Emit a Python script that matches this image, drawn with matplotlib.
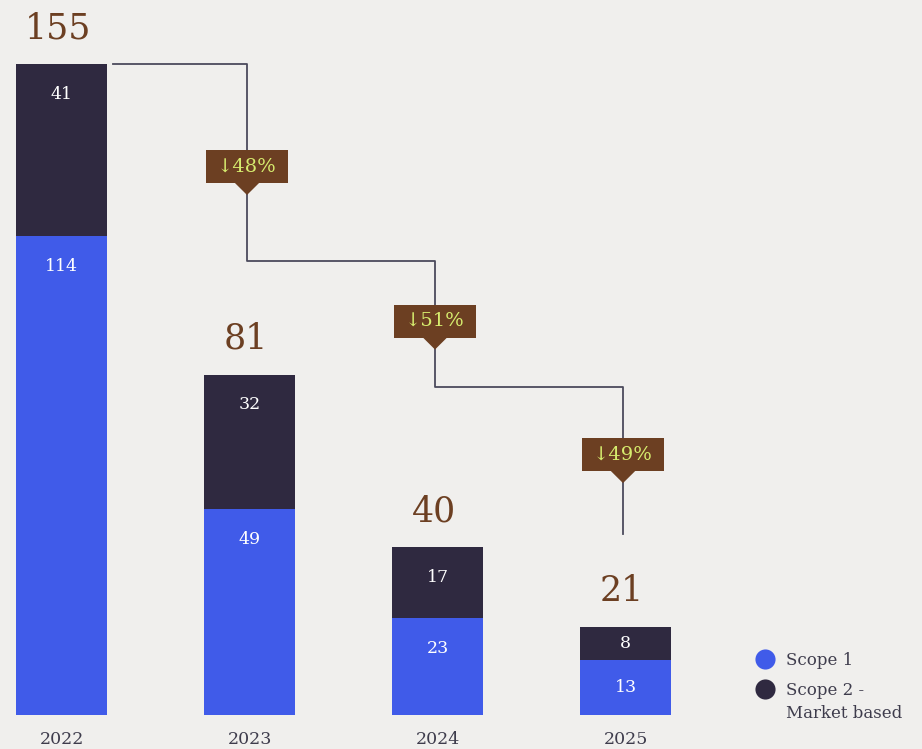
import numpy as np
import matplotlib
matplotlib.use('Agg')
from matplotlib import pyplot as plt
from matplotlib.patches import Rectangle, Polygon

years = ['2022', '2023', '2024', '2025']
scope1 = [114, 49, 23, 13]
scope2 = [41, 32, 17, 8]
totals = [155, 81, 40, 21]
drops = [48, 51, 49]
legend_labels = ['Scope 1', 'Scope 2 -\nMarket based']

blue = '#405be9'
dark = '#2f2940'
brown = '#6c3f22'
bg = '#f0efed'
badge_txt = '#d6ec6e'
grey_txt = '#3e3c4c'

plt.rcParams['font.family'] = ['DejaVu Serif', 'DejaVu Sans']

# layout: 188 px per bar slot, 4.2 px per unit
px_x = 1 / 188
px_y = 1 / 4.2

fig = plt.figure(figsize=(9.22, 7.49), dpi=100, facecolor=bg)
ax = fig.add_axes([0, 0, 1, 1])
ax.set_facecolor(bg)
ax.set_xlim(-61.5 * px_x, (922 - 61.5) * px_x)
ax.set_ylim(-34 * px_y, 715 * px_y)
ax.axis('off')

x = np.arange(len(years))
w = 91 * px_x
ax.bar(x, scope1, width=w, color=blue, linewidth=0)
ax.bar(x, scope2, width=w, bottom=scope1, color=dark, linewidth=0)

for i in range(len(years)):
    # segment labels: 30 px below segment top, centred if the segment is small
    for bot, val in [(0, scope1[i]), (scope1[i], scope2[i])]:
        if val * 4.2 < 60:
            y = bot + val / 2
        else:
            y = bot + val - 30 * px_y
        ax.text(x[i], y, str(val), color='white', fontsize=12.5, ha='center', va='center')
    ax.text(x[i] - 0.02, totals[i] + 19 * px_y, str(totals[i]), color=brown, fontsize=25,
            ha='center', va='bottom')
    ax.text(x[i], -24 * px_y, years[i], color=grey_txt, fontsize=12.5, ha='center', va='center')

# step connector
levels = [totals[0], 108, 78, 43]
badge_levels = [130.6, 93.8, 62.0]
dx = -2.5 * px_x
lx = [x[0] + w / 2 + 6 * px_x]
ly = [levels[0]]
for k in range(1, len(years)):
    lx += [x[k] + dx, x[k] + dx]
    ly += [levels[k - 1], levels[k]]
ax.plot(lx, ly, color='#4b4a5c', lw=1.3, zorder=2)

bw, bh = 82 * px_x, 33 * px_y
tw, th = 12.5 * px_x, 12 * px_y
for k in range(1, len(years)):
    cy = badge_levels[k - 1]
    cx = x[k] + dx
    ax.add_patch(Rectangle((cx - bw / 2, cy - bh / 2), bw, bh, color=brown, zorder=3, lw=0))
    ax.add_patch(Polygon([[cx - tw, cy - bh / 2 + 0.1], [cx + tw, cy - bh / 2 + 0.1],
                          [cx, cy - bh / 2 - th]], closed=True, color=brown, zorder=3, lw=0))
    ax.text(cx, cy, '\u2193' + f'{drops[k - 1]}%', color=badge_txt, fontsize=14,
            ha='center', va='center', zorder=4)

# legend
for j, (lab, col) in enumerate(zip(legend_labels, [blue, dark])):
    ly0 = (715 - 659 - 30 * j) * px_y
    ax.scatter([(765 - 61.5) * px_x], [ly0], s=210, color=col, lw=0, zorder=3)
    ax.text((786 - 61.5) * px_x, ly0 + 7 * px_y, lab, color=grey_txt, fontsize=12,
            ha='left', va='top', linespacing=1.45)

fig.savefig('out.png', dpi=100, facecolor=bg)
